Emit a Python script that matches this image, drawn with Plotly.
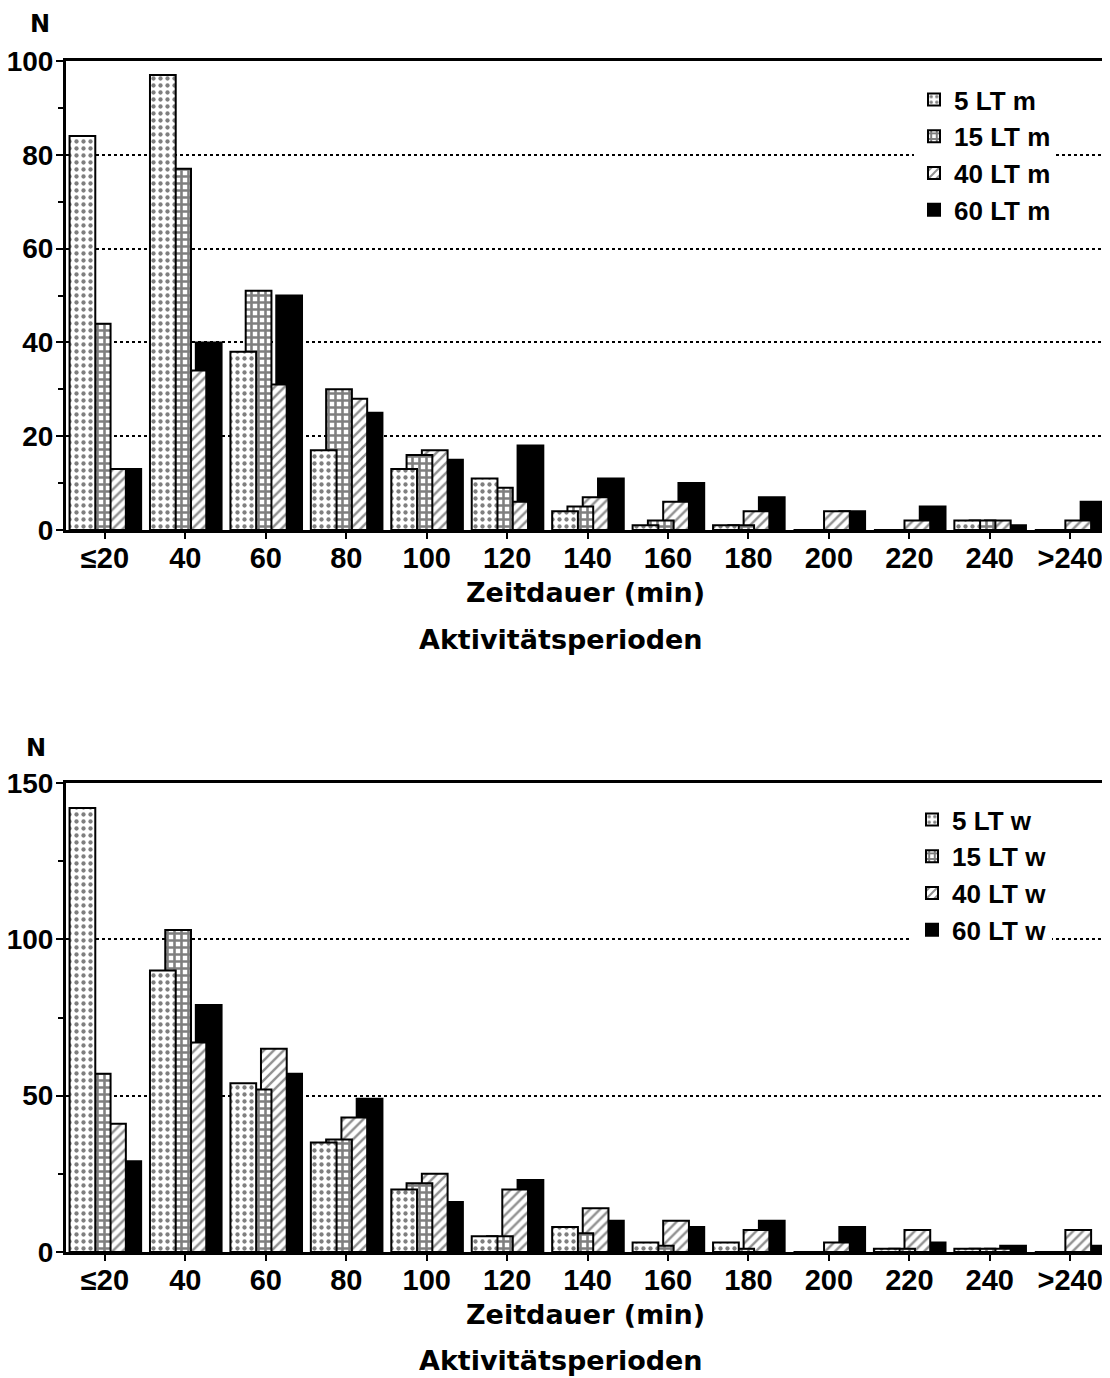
import plotly.graph_objects as go

cats = ["≤20", "40", "60", "80", "100", "120", "140", "160", "180", "200", "220", "240", ">240"]

# Top chart (m)
lt5_m = [84, 97, 38, 17, 13, 11, 4, 1, 1, 0, 0, 2, 0]
lt15_m = [44, 77, 51, 30, 16, 9, 5, 2, 1, 0, 0, 2, 0]
lt40_m = [13, 34, 31, 28, 17, 6, 7, 6, 4, 4, 2, 2, 2]
lt60_m = [13, 40, 50, 25, 15, 18, 11, 10, 7, 4, 5, 1, 6]

# Bottom chart (w)
lt5_w = [142, 90, 54, 35, 20, 5, 8, 3, 3, 0, 1, 1, 0]
lt15_w = [57, 103, 52, 36, 22, 5, 6, 2, 1, 0, 1, 1, 0]
lt40_w = [41, 67, 65, 43, 25, 20, 14, 10, 7, 3, 7, 1, 7]
lt60_w = [29, 79, 57, 49, 16, 23, 10, 8, 10, 8, 3, 2, 2]

series_names = ["5 LT", "15 LT", "40 LT", "60 LT"]

# page has an 8px body margin -> figure is offset by 8px
OFF = 8
W, H = 1110 - OFF, 1378 - OFF
NUMFONT = "Liberation Sans, Arial, sans-serif"
TXTFONT = "DejaVu Sans, sans-serif"

styles = [
    dict(color="white", pattern=dict(shape=".", fgcolor="black", bgcolor="white", size=7, solidity=0.3)),
    dict(color="white", pattern=dict(shape="+", fgcolor="black", bgcolor="white", size=7, solidity=0.6)),
    dict(color="white", pattern=dict(shape="/", fgcolor="#222", bgcolor="white", size=7, solidity=0.35)),
    dict(color="black"),
]
offsets = [-0.44, -0.25, -0.06, 0.13]
bw = 0.32

fig = go.Figure()

def add_set(data, suffix, xa, ya, legend):
    # draw back-to-front so 5 LT is in front
    for i in [3, 2, 1, 0]:
        st = styles[i]
        marker = dict(color=st["color"], line=dict(color="black", width=2))
        if "pattern" in st:
            marker["pattern"] = st["pattern"]
        fig.add_trace(go.Bar(
            x=cats, y=data[i], name=f"{series_names[i]} {suffix}",
            xaxis=xa, yaxis=ya, legend=legend, legendrank=i + 1,
            offset=offsets[i], width=bw, marker=marker,
        ))

add_set([lt5_m, lt15_m, lt40_m, lt60_m], "m", "x", "y", "legend")
add_set([lt5_w, lt15_w, lt40_w, lt60_w], "w", "x2", "y2", "legend2")

def py(pix):
    return 1 - (pix - OFF) / H

def px(pix):
    return (pix - OFF) / W

xdom = [px(66), min(1.0, px(1108))]
xcommon = dict(
    type="category", range=[-0.484, 12.47], domain=xdom,
    showline=True, linecolor="black", linewidth=3, mirror=True,
    ticks="outside", ticklen=6, tickwidth=2, tickcolor="black",
    showgrid=False, tickfont=dict(family=NUMFONT, size=29, color="black", weight="bold"),
    ticklabelstandoff=-6,
    automargin=False, fixedrange=True,
)
ycommon = dict(
    showline=True, linecolor="black", linewidth=3,
    ticks="outside", ticklen=7, tickwidth=2, tickcolor="black",
    showgrid=True, gridcolor="black", griddash="dot", gridwidth=2,
    zeroline=False,
    tickfont=dict(family=NUMFONT, size=28, color="black", weight="bold"),
    ticklabelstandoff=-3,
    automargin=False, fixedrange=True,
)

legfont = dict(family=NUMFONT, size=26, color="black", weight="bold")
fig.update_layout(
    width=W, height=H,
    margin=dict(l=0, r=0, t=0, b=0),
    paper_bgcolor="white", plot_bgcolor="white",
    barmode="overlay",
    showlegend=True,
    xaxis=dict(**xcommon, anchor="y"),
    yaxis=dict(**ycommon, domain=[py(530), py(61)], range=[0, 100], tickvals=[0, 20, 40, 60, 80, 100],
               mirror=False, anchor="x",
               minor=dict(tickvals=[10, 30, 50, 70, 90], ticks="outside", ticklen=5, tickwidth=2, tickcolor="black", showgrid=False)),
    xaxis2=dict(**xcommon, anchor="y2"),
    yaxis2=dict(**ycommon, domain=[py(1252), py(783)], range=[0, 150], tickvals=[0, 50, 100, 150],
                mirror=True, anchor="x2",
                minor=dict(tickvals=[25, 75, 125], ticks="outside", ticklen=5, tickwidth=2, tickcolor="black", showgrid=False)),
    legend=dict(x=px(914), y=py(76), xanchor="left", yanchor="top", bgcolor="white",
                font=legfont, tracegroupgap=0, itemwidth=30),
    legend2=dict(x=px(912), y=py(796), xanchor="left", yanchor="top", bgcolor="white",
                 font=legfont, tracegroupgap=0, itemwidth=30),
)

ann_font = dict(family=TXTFONT, size=27, color="black", weight="bold")
annotations = [
    ("N", 40, 24, 24),
    ("Zeitdauer (min)", 585, 592, 27),
    ("Aktivitätsperioden", 561, 640, 27),
    ("N", 36, 748, 24),
    ("Zeitdauer (min)", 585, 1314, 27),
    ("Aktivitätsperioden", 561, 1360, 27),
]
for t, x, y, s in annotations:
    fig.add_annotation(text=t, x=px(x), y=py(y), xref="paper", yref="paper",
                       showarrow=False, xanchor="center", yanchor="middle",
                       font=dict(ann_font, size=s))

fig.write_html("out.html")
